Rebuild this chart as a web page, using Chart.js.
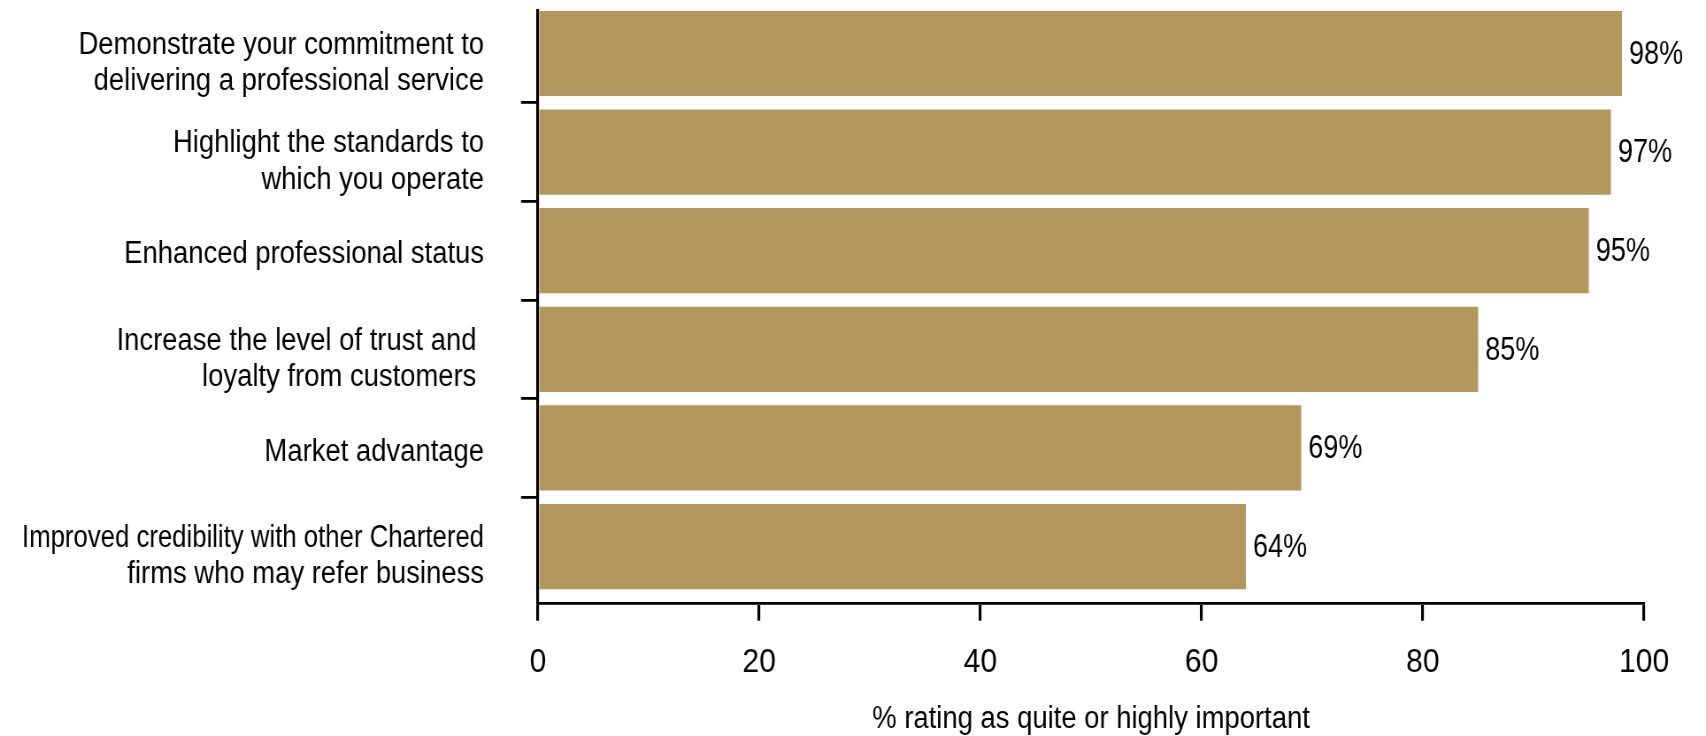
<!DOCTYPE html>
<html>
<head>
<meta charset="utf-8">
<script src="https://cdn.jsdelivr.net/npm/chart.js@4.4.1/dist/chart.umd.min.js"></script>
<style>
  html, body { margin: 0; padding: 0; background: #ffffff; overflow: hidden; }
</style>
</head>
<body>
<!-- The canvas is laid out wider than it is shown, which gives the text a condensed face -->
<canvas id="chart" width="1928" height="736" style="display:block;width:1706px;height:736px;"></canvas>
<script>
// Survey statements (each entry is the list of lines shown on the axis)
const categories = [
  ['Demonstrate your commitment to', 'delivering a professional service'],
  ['Highlight the standards to', 'which you operate'],
  ['Enhanced professional status'],
  ['Increase the level of trust and ', 'loyalty from customers '],
  ['Market advantage'],
  ['Improved credibility with other Chartered', 'firms who may refer business']
];
// Share of respondents rating each statement as quite or highly important
const values = [98, 97, 95, 85, 69, 64];
const xTicks = [0, 20, 40, 60, 80, 100];
const xTitle = '% rating as quite or highly important';

const FONT = '"Liberation Sans", Arial, Helvetica, sans-serif';
const GOLD = '#b3975d';
const INK = '#000000';
// horizontal squeeze between canvas units and screen pixels
const SQUEEZE = 1706 / 1928;
// widest a statement line may get before it is narrowed to fit
const LABEL_MAX_WIDTH = 462 / SQUEEZE;

// Writes the percentage just past the end of every bar
const valueLabels = {
  id: 'valueLabels',
  afterDatasetsDraw(chart) {
    const ctx = chart.ctx;
    const meta = chart.getDatasetMeta(0);
    ctx.save();
    ctx.font = '34px ' + FONT;
    ctx.fillStyle = INK;
    ctx.textAlign = 'left';
    ctx.textBaseline = 'middle';
    meta.data.forEach((bar, i) => {
      const text = values[i] + '%';
      const w = ctx.measureText(text).width * 0.9;
      ctx.fillText(text, bar.x + 7 / SQUEEZE, bar.y + 1, w);
    });
    ctx.restore();
  }
};

// Two-line statements sit a little lower than the bar centre; long lines are narrowed
const labelNudge = {
  id: 'labelNudge',
  beforeDraw(chart) {
    const items = chart.scales.y.getLabelItems();
    items.forEach(item => {
      if (item._nudged) return;
      const lines = Array.isArray(item.label) ? item.label.length : 1;
      item.options.translation[1] += lines > 1 ? 10 : 4;
      item.options.maxWidth = LABEL_MAX_WIDTH;
      item._nudged = true;
    });
  }
};

new Chart(document.getElementById('chart'), {
  type: 'bar',
  data: {
    datasets: [{
      data: values.map((v, i) => ({ x: v, y: i })),
      backgroundColor: GOLD,
      borderWidth: 0,
      categoryPercentage: 1,
      barPercentage: 0.865
    }]
  },
  options: {
    indexAxis: 'y',
    responsive: false,
    animation: false,
    layout: { padding: { top: 10.7, right: 70, bottom: 0, left: 0 } },
    plugins: {
      legend: { display: false },
      tooltip: { enabled: false }
    },
    scales: {
      x: {
        type: 'linear',
        min: 0,
        max: 100,
        afterBuildTicks(scale) { scale.ticks = xTicks.map(v => ({ value: v })); },
        afterFit(scale) {
          scale.height = 132.3;
          scale.paddingLeft = 0;
          scale.paddingRight = 0;
        },
        border: { display: true, color: INK, width: 2.8 },
        grid: {
          display: true,
          drawOnChartArea: false,
          drawTicks: true,
          tickLength: 17,
          color: INK,
          lineWidth: 2.8 / SQUEEZE
        },
        ticks: {
          color: INK,
          font: { family: FONT, size: 34 },
          padding: 22,
          maxRotation: 0,
          callback: (v) => String(v)
        },
        title: {
          display: true,
          text: xTitle,
          color: INK,
          font: { family: FONT, size: 31, lineHeight: 1 },
          padding: { top: 0, bottom: 1 }
        }
      },
      y: {
        type: 'linear',
        reverse: true,
        offset: false,
        min: -0.433,
        max: 5.579,
        afterBuildTicks(scale) { scale.ticks = categories.map((_, i) => ({ value: i })); },
        afterFit(scale) {
          scale.width = 538 / SQUEEZE;
          scale.paddingTop = 0;
          scale.paddingBottom = 0;
        },
        border: { display: true, color: INK, width: 2.8 / SQUEEZE },
        grid: {
          display: true,
          offset: true,
          drawOnChartArea: false,
          drawTicks: true,
          tickLength: 17 / SQUEEZE,
          lineWidth: 2.8,
          color: (ctx) => ctx.type === 'tick' ? INK : 'rgba(0,0,0,0)'
        },
        ticks: {
          color: INK,
          font: { family: FONT, size: 31, lineHeight: 1.184 },
          padding: 37 / SQUEEZE,
          autoSkip: false,
          callback: (v, i) => categories[i]
        }
      }
    }
  },
  plugins: [labelNudge, valueLabels]
});
</script>
</body>
</html>
